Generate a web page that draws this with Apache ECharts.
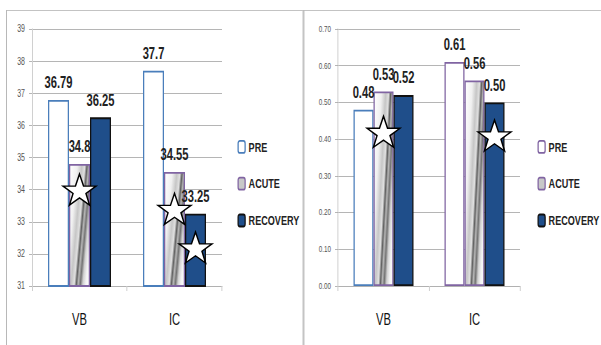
<!DOCTYPE html>
<html>
<head>
<meta charset="utf-8">
<script src="https://cdn.jsdelivr.net/npm/echarts@6/dist/echarts.min.js"></script>
<style>
  html, body { margin: 0; padding: 0; background: #fff; overflow: hidden; }
  #wrap { width: 601px; height: 345px; overflow: hidden; }
  /* the chart is laid out wide and squeezed horizontally, giving the narrow lettering */
  #chart { width: 860px; height: 345px; transform: scaleX(0.69884); transform-origin: 0 0; }
</style>
</head>
<body>
<div id="wrap"><div id="chart"></div></div>
<script>
// Categories and values for the two panels
const categories = ['VB', 'IC'];

const leftPre = [36.79, 37.7];
const leftAcute = [34.8, 34.55];
const leftRecovery = [36.25, 33.25];

const rightPre = [0.48, 0.61];
const rightAcute = [0.53, 0.56];
const rightRecovery = [0.52, 0.50];

// Star markers: [category, value]
const leftAcuteStars = [['VB', 34.0], ['IC', 33.4]];
const leftRecoveryStars = [['IC', 32.2]];
const rightAcuteStars = [['VB', 0.42]];
const rightRecoveryStars = [['IC', 0.41]];

// horizontal squeeze applied by CSS; x-distances are given in screen pixels and divided by it
const S = 601 / 860;
const sx = v => v / S;

const FONT = '"Liberation Sans", Arial, sans-serif';
const STAR = 'path://M50,0 L61.8,35.1 L98.1,35.1 L68.8,56.7 L79.4,91 L50,70 L20.6,91 L31.2,56.7 L1.9,35.1 L38.2,35.1 Z';

const blueEdge = '#4a7ebb';
const purpleEdge = '#8064a2';
const darkBlue = '#1f4e8a';

// slanted grey streaks for ACUTE bars (gradient in the bar's own box)
function acuteFill() {
  return new echarts.graphic.LinearGradient(0, 0, 1.19, 0.655, [
    { offset: 0, color: '#ffffff' },
    { offset: 0.25, color: '#f0f0f0' },
    { offset: 0.40, color: '#c6c6c6' },
    { offset: 0.50, color: '#e0e0e0' },
    { offset: 0.57, color: '#626262' },
    { offset: 0.63, color: '#b6b6b6' },
    { offset: 0.70, color: '#747474' },
    { offset: 0.78, color: '#d0d0d0' },
    { offset: 0.88, color: '#f3f3f3' },
    { offset: 1, color: '#ffffff' }
  ]);
}

function stars(list) {
  return {
    symbol: STAR,
    symbolSize: [sx(33), 31],
    silent: true,
    label: { show: false },
    itemStyle: { color: '#fff', borderColor: '#000', borderWidth: 1.7 },
    data: list.map(p => ({ coord: p }))
  };
}

const valueLabel = (fmt) => ({
  show: true,
  position: 'top',
  distance: 9,
  fontFamily: FONT,
  fontSize: 16,
  fontWeight: 'bold',
  color: '#222',
  formatter: fmt
});

const EDGE = 1.8;

function makeSeries(idx, pre, acute, recovery, fmt, acuteStars, recStars, barW, preEdges) {
  return [
    {
      name: 'PRE', type: 'bar', xAxisIndex: idx, yAxisIndex: idx,
      barWidth: sx(barW), barGap: '0%',
      data: pre.map((v, i) => ({ value: v, itemStyle: { borderColor: preEdges[i] } })),
      itemStyle: { color: '#fff', borderColor: preEdges[0], borderWidth: EDGE },
      label: valueLabel(fmt)
    },
    {
      name: 'ACUTE', type: 'bar', xAxisIndex: idx, yAxisIndex: idx,
      barWidth: sx(barW), barGap: '0%',
      data: acute,
      itemStyle: { color: acuteFill(), borderColor: purpleEdge, borderWidth: EDGE },
      label: valueLabel(fmt),
      markPoint: stars(acuteStars)
    },
    {
      name: 'RECOVERY', type: 'bar', xAxisIndex: idx, yAxisIndex: idx,
      barWidth: sx(barW), barGap: '0%',
      data: recovery,
      itemStyle: { color: darkBlue, borderColor: '#111', borderWidth: EDGE },
      label: valueLabel(fmt),
      markPoint: stars(recStars)
    }
  ];
}

const xAxisBase = (gridIndex) => ({
  type: 'category', gridIndex, data: categories,
  axisLine: { show: true, lineStyle: { color: '#b0b0b0', width: 1 } },
  axisTick: { show: true, length: 5, lineStyle: { color: '#cfcfcf', width: sx(1) } },
  axisLabel: { margin: 26, fontFamily: FONT, fontSize: 16, color: '#111' }
});

const yAxisBase = (gridIndex, min, max, interval, fmt, fs) => ({
  type: 'value', gridIndex, min, max, interval,
  axisLine: { show: true, lineStyle: { color: '#d0d0d0', width: sx(1) } },
  axisTick: { show: true, length: sx(3), lineStyle: { color: '#a8a8a8' } },
  splitLine: { show: true, lineStyle: { color: '#a8a8a8', width: 1 } },
  axisLabel: { margin: sx(7), fontFamily: FONT, fontSize: fs, color: '#555', formatter: fmt }
});

const legendBase = (left, preEdge) => ({
  orient: 'vertical', left: sx(left), top: 135,
  itemWidth: sx(7), itemHeight: 12, itemGap: 23,
  textStyle: { fontFamily: FONT, fontSize: 13, fontWeight: 'bold', color: '#222' },
  data: [
    { name: 'PRE', itemStyle: { color: '#fff', borderColor: preEdge, borderWidth: EDGE } },
    { name: 'ACUTE', itemStyle: { color: '#c8c8c8', borderColor: purpleEdge, borderWidth: EDGE } },
    { name: 'RECOVERY', itemStyle: { color: darkBlue, borderColor: '#111', borderWidth: EDGE } }
  ]
});

const chart = echarts.init(document.getElementById('chart'), null, { renderer: 'svg' });

chart.setOption({
  animation: false,
  backgroundColor: '#fff',
  grid: [
    { left: sx(32), top: 29, width: sx(190), height: 257 },
    { left: sx(338), top: 29, width: sx(182), height: 257 }
  ],
  xAxis: [xAxisBase(0), xAxisBase(1)],
  yAxis: [
    yAxisBase(0, 31, 39, 1, v => String(v), 10),
    yAxisBase(1, 0, 0.7, 0.1, v => v.toFixed(2), 9)
  ],
  legend: [legendBase(234, blueEdge), legendBase(534, purpleEdge)],
  series: [
    ...makeSeries(0, leftPre, leftAcute, leftRecovery, p => String(p.value),
      leftAcuteStars, leftRecoveryStars, 21, [blueEdge, blueEdge]),
    ...makeSeries(1, rightPre, rightAcute, rightRecovery, p => p.value.toFixed(2),
      rightAcuteStars, rightRecoveryStars, 20, [blueEdge, purpleEdge])
  ],
  graphic: [
    // panel frames
    { type: 'line', silent: true, shape: { x1: sx(6), y1: 10.5, x2: sx(303), y2: 10.5 }, style: { stroke: '#b8b8b8', lineWidth: 1 } },
    { type: 'line', silent: true, shape: { x1: sx(6.5), y1: 10, x2: sx(6.5), y2: 345 }, style: { stroke: '#b8b8b8', lineWidth: sx(1) } },
    { type: 'line', silent: true, shape: { x1: sx(303.5), y1: 10, x2: sx(303.5), y2: 345 }, style: { stroke: '#c4c4c4', lineWidth: sx(2) } },
    { type: 'line', silent: true, shape: { x1: sx(303), y1: 10.5, x2: sx(601), y2: 10.5 }, style: { stroke: '#b8b8b8', lineWidth: 1 } }
  ]
});
</script>
</body>
</html>
